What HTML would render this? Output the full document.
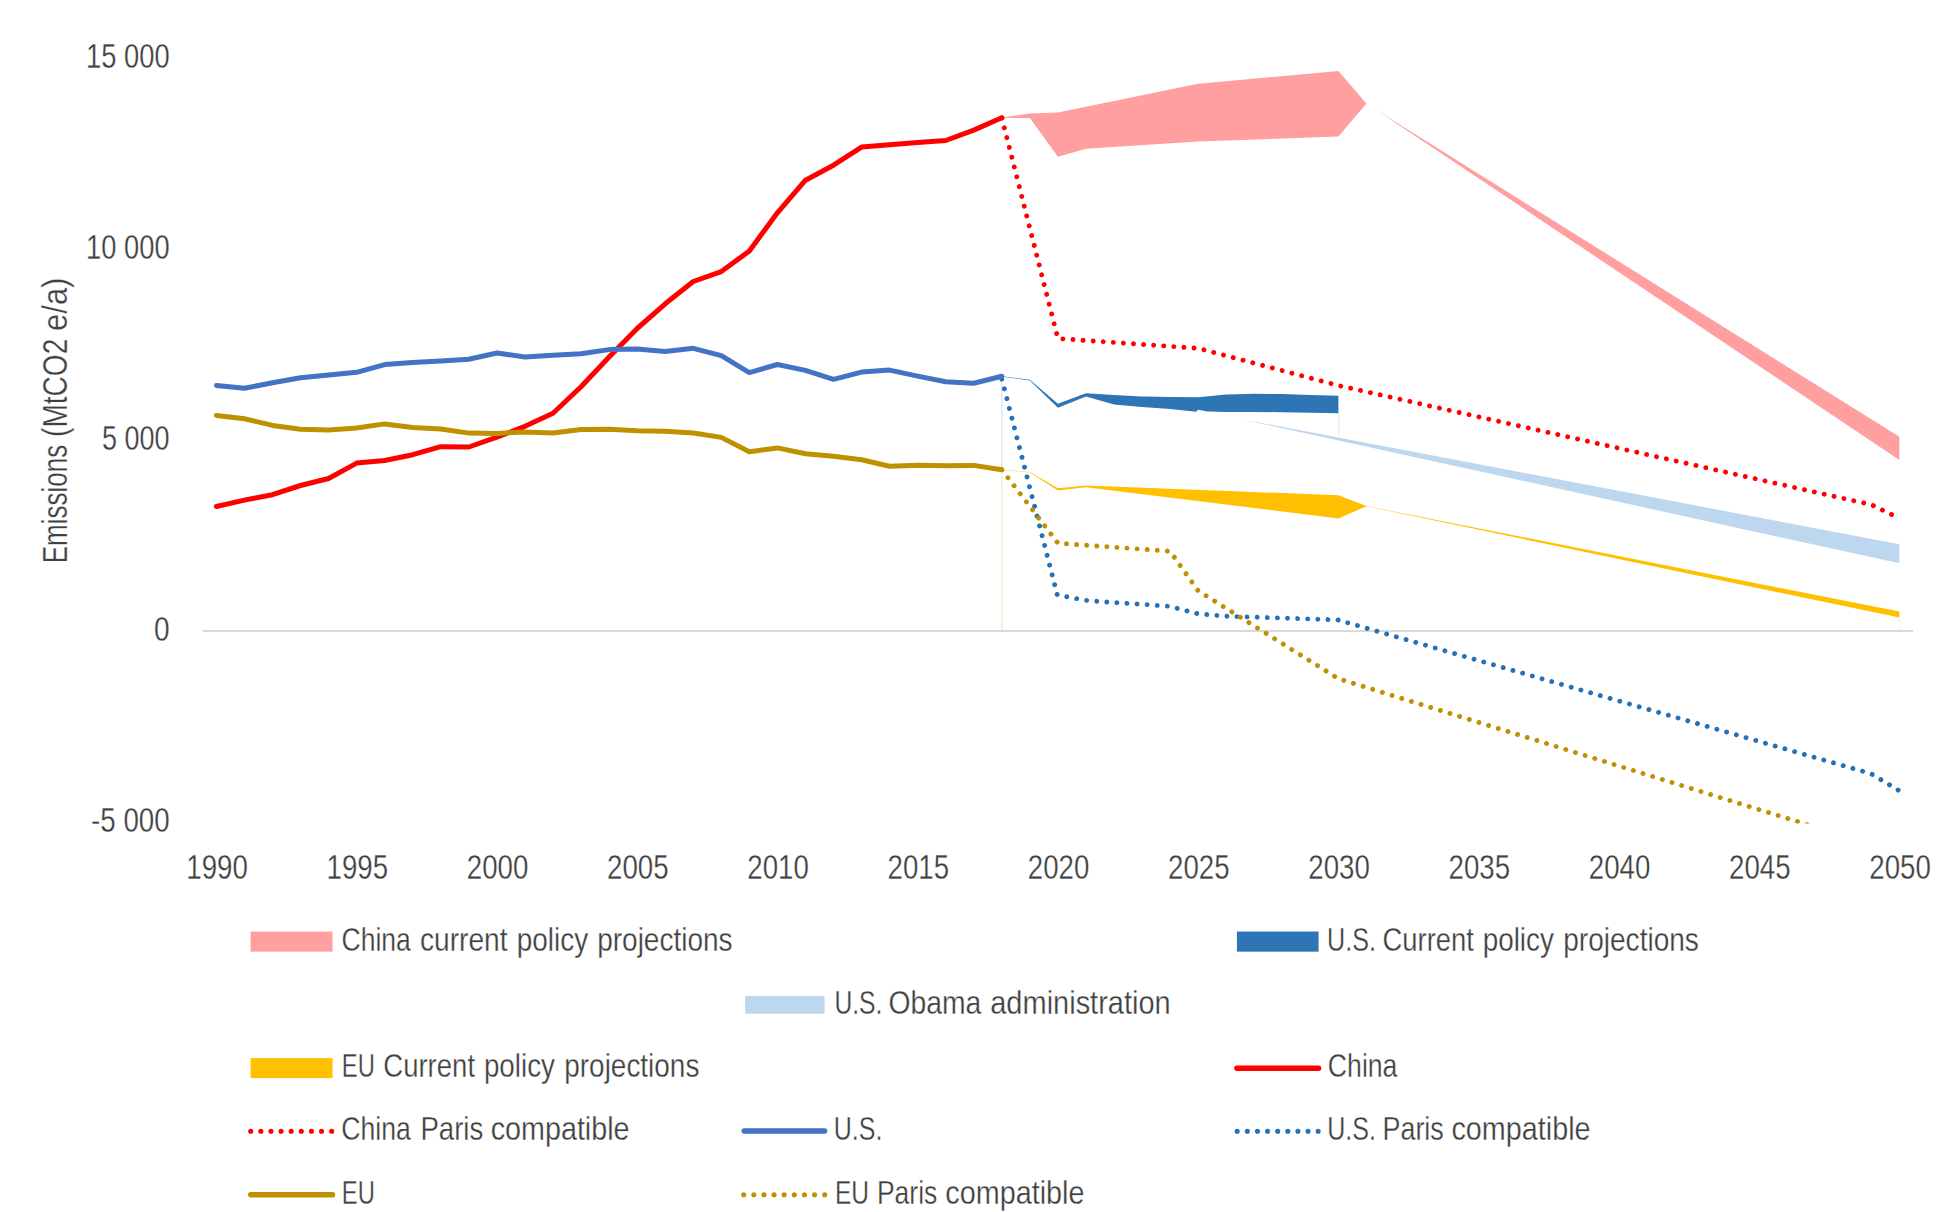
<!DOCTYPE html>
<html lang="en">
<head>
<meta charset="utf-8">
<title>Emissions (MtCO2 e/a) – China, U.S., EU</title>
<style>
html,body{margin:0;padding:0;background:#fff;}
body{width:1949px;height:1212px;overflow:hidden;}
svg{display:block;}
</style>
</head>
<body>
<svg width="1949" height="1212" viewBox="0 0 1949 1212">
<rect x="0" y="0" width="1949" height="1212" fill="#ffffff"/>
<defs><clipPath id="plot"><rect x="195" y="30" width="1730" height="793.5"/></clipPath></defs>

<line x1="1001.8" y1="377" x2="1001.8" y2="470" stroke="#DCE6F2" stroke-width="1.4"/>
<line x1="1001.8" y1="470" x2="1001.8" y2="631" stroke="#F4EDCF" stroke-width="1.4"/>
<line x1="1338.7" y1="413" x2="1338.7" y2="436" stroke="#E3ECF6" stroke-width="1.2"/>
<line x1="1899.6" y1="617" x2="1899.6" y2="630" stroke="#FBF1D0" stroke-width="1.2"/>
<line x1="202.6" y1="631" x2="1913.2" y2="631" stroke="#D9D9D9" stroke-width="2"/>
<g clip-path="url(#plot)">
<polygon points="1001.8,117.4 1029.85,113.6 1057.9,112.5 1198.15,83.8 1338.4,71.1 1366.45,103.4 1338.4,136.6 1198.15,141.6 1085.95,148.7 1057.9,156.7 1029.85,117.9 1001.8,118.0" fill="#FF9F9F"/>
<polygon points="1376,109.7 1899.4,436.8 1899.4,460.0" fill="#FF9F9F"/>
<polygon points="1240,418.9 1899.4,544.2 1899.4,563.3" fill="#BDD7EE"/>
<polygon points="1001.8,376.25 1029.85,379.85 1057.9,403.8 1085.95,393.2 1114.0,395.1 1142.05,396.6 1170.1,397.1 1198.15,397.3 1226.2,394.5 1254.25,393.8 1282.3,394.0 1310.35,394.9 1338.4,395.8 1338.4,413.2 1310.35,412.7 1282.3,412.3 1254.25,411.9 1226.2,411.9 1207.5,411.6 1197.8,409.7 1196.3,411.7 1170.1,409.1 1142.05,407.0 1114.0,404.6 1085.95,396.4 1057.9,407.8 1029.85,380.45 1001.8,376.7" fill="#2E75B6"/>
<polygon points="1001.8,469.9 1029.85,472.0 1057.9,488.2 1085.95,485.4 1338.4,495.3 1366.45,506.1 1899.4,611.6 1899.4,617.6 1366.45,506.3 1338.4,518.4 1085.95,487.2 1057.9,490.6 1029.85,472.45 1001.8,470.2" fill="#FFC000"/>
<polyline points="1001.8,117.8 1057.9,338.5 1198.15,348.3 1338.4,385.5 1871.35,504.7 1899.4,518.4" stroke="#FF0000" fill="none" stroke-width="4.9" stroke-linecap="round" stroke-linejoin="round" stroke-dasharray="0.01 10.1" stroke-dashoffset="-0.2"/>
<polyline points="1001.8,376.4 1057.9,594.9 1085.95,600.3 1114.0,602.5 1142.05,604.2 1170.1,606.3 1198.15,613.7 1226.2,616.2 1338.4,619.9 1871.35,773.6 1899.4,790.5" stroke="#2670B5" fill="none" stroke-width="4.9" stroke-linecap="round" stroke-linejoin="round" stroke-dasharray="0.01 10.1" stroke-dashoffset="-2.7" transform="translate(-0.6,0)"/>
<polyline points="1001.8,469.7 1057.9,543.2 1170.1,551.2 1198.15,590.8 1338.4,678.7 1899.4,853.3" stroke="#BF9000" fill="none" stroke-width="4.9" stroke-linecap="round" stroke-linejoin="round" stroke-dasharray="0.01 10.1" stroke-dashoffset="0"/>
<polyline points="216.4,506.5 244.45,500.1 272.5,494.7 300.55,485.5 328.6,478.5 356.65,463.1 384.7,460.5 412.75,454.7 440.8,446.7 468.85,447.0 496.9,437.2 524.95,426.3 553.0,413.2 581.05,386.7 609.1,357.0 637.15,328.5 665.2,303.8 693.25,281.5 721.3,271.6 749.35,251.0 777.4,212.8 805.45,180.2 833.5,165.2 861.55,147.1 889.6,144.8 917.65,142.5 945.7,140.5 973.75,130.1 1001.8,117.8" stroke="#FF0000" fill="none" stroke-width="5" stroke-linecap="round" stroke-linejoin="round"/>
<polyline points="216.4,385.4 244.45,388.2 272.5,382.8 300.55,377.7 328.6,375.1 356.65,372.3 384.7,364.6 412.75,362.6 440.8,361.1 468.85,359.2 496.9,353.0 524.95,357.0 553.0,355.2 581.05,353.8 609.1,349.6 637.15,349.1 665.2,351.5 693.25,348.3 721.3,355.7 749.35,372.6 777.4,364.5 805.45,370.4 833.5,379.4 861.55,372.1 889.6,370.1 917.65,376.1 945.7,381.8 973.75,383.2 1001.8,376.3" stroke="#4472C4" fill="none" stroke-width="5" stroke-linecap="round" stroke-linejoin="round"/>
<polyline points="216.4,415.4 244.45,418.8 272.5,425.4 300.55,429.3 328.6,430.0 356.65,428.0 384.7,423.9 412.75,427.4 440.8,429.0 468.85,433.1 496.9,433.4 524.95,432.0 553.0,433.0 581.05,429.5 609.1,429.3 637.15,430.7 665.2,431.2 693.25,433.0 721.3,437.4 749.35,451.8 777.4,447.9 805.45,453.8 833.5,456.3 861.55,459.7 889.6,466.3 917.65,465.3 945.7,465.7 973.75,465.4 1001.8,469.7" stroke="#BF9000" fill="none" stroke-width="5" stroke-linecap="round" stroke-linejoin="round"/>
</g>
<text x="169.6" y="68.1" text-anchor="end" textLength="83.5" fill="#404040" stroke="#ffffff" stroke-width="0.3" font-family="Liberation Sans, Arial, sans-serif" font-size="34.6" lengthAdjust="spacingAndGlyphs">15 000</text>
<text x="169.6" y="259.1" text-anchor="end" textLength="83.5" fill="#404040" stroke="#ffffff" stroke-width="0.3" font-family="Liberation Sans, Arial, sans-serif" font-size="34.6" lengthAdjust="spacingAndGlyphs">10 000</text>
<text x="169.6" y="450.0" text-anchor="end" textLength="67.5" fill="#404040" stroke="#ffffff" stroke-width="0.3" font-family="Liberation Sans, Arial, sans-serif" font-size="34.6" lengthAdjust="spacingAndGlyphs">5 000</text>
<text x="169.6" y="641.0" text-anchor="end" textLength="15.6" fill="#404040" stroke="#ffffff" stroke-width="0.3" font-family="Liberation Sans, Arial, sans-serif" font-size="34.6" lengthAdjust="spacingAndGlyphs">0</text>
<text x="169.6" y="832.0" text-anchor="end" textLength="78.5" fill="#404040" stroke="#ffffff" stroke-width="0.3" font-family="Liberation Sans, Arial, sans-serif" font-size="34.6" lengthAdjust="spacingAndGlyphs">-5 000</text>
<text x="217.1" y="878.9" text-anchor="middle" textLength="61.5" fill="#404040" stroke="#ffffff" stroke-width="0.3" font-family="Liberation Sans, Arial, sans-serif" font-size="34.6" lengthAdjust="spacingAndGlyphs">1990</text>
<text x="357.34999999999997" y="878.9" text-anchor="middle" textLength="61.5" fill="#404040" stroke="#ffffff" stroke-width="0.3" font-family="Liberation Sans, Arial, sans-serif" font-size="34.6" lengthAdjust="spacingAndGlyphs">1995</text>
<text x="497.59999999999997" y="878.9" text-anchor="middle" textLength="61.5" fill="#404040" stroke="#ffffff" stroke-width="0.3" font-family="Liberation Sans, Arial, sans-serif" font-size="34.6" lengthAdjust="spacingAndGlyphs">2000</text>
<text x="637.85" y="878.9" text-anchor="middle" textLength="61.5" fill="#404040" stroke="#ffffff" stroke-width="0.3" font-family="Liberation Sans, Arial, sans-serif" font-size="34.6" lengthAdjust="spacingAndGlyphs">2005</text>
<text x="778.1" y="878.9" text-anchor="middle" textLength="61.5" fill="#404040" stroke="#ffffff" stroke-width="0.3" font-family="Liberation Sans, Arial, sans-serif" font-size="34.6" lengthAdjust="spacingAndGlyphs">2010</text>
<text x="918.35" y="878.9" text-anchor="middle" textLength="61.5" fill="#404040" stroke="#ffffff" stroke-width="0.3" font-family="Liberation Sans, Arial, sans-serif" font-size="34.6" lengthAdjust="spacingAndGlyphs">2015</text>
<text x="1058.6000000000001" y="878.9" text-anchor="middle" textLength="61.5" fill="#404040" stroke="#ffffff" stroke-width="0.3" font-family="Liberation Sans, Arial, sans-serif" font-size="34.6" lengthAdjust="spacingAndGlyphs">2020</text>
<text x="1198.8500000000001" y="878.9" text-anchor="middle" textLength="61.5" fill="#404040" stroke="#ffffff" stroke-width="0.3" font-family="Liberation Sans, Arial, sans-serif" font-size="34.6" lengthAdjust="spacingAndGlyphs">2025</text>
<text x="1339.1000000000001" y="878.9" text-anchor="middle" textLength="61.5" fill="#404040" stroke="#ffffff" stroke-width="0.3" font-family="Liberation Sans, Arial, sans-serif" font-size="34.6" lengthAdjust="spacingAndGlyphs">2030</text>
<text x="1479.3500000000001" y="878.9" text-anchor="middle" textLength="61.5" fill="#404040" stroke="#ffffff" stroke-width="0.3" font-family="Liberation Sans, Arial, sans-serif" font-size="34.6" lengthAdjust="spacingAndGlyphs">2035</text>
<text x="1619.6000000000001" y="878.9" text-anchor="middle" textLength="61.5" fill="#404040" stroke="#ffffff" stroke-width="0.3" font-family="Liberation Sans, Arial, sans-serif" font-size="34.6" lengthAdjust="spacingAndGlyphs">2040</text>
<text x="1759.8500000000001" y="878.9" text-anchor="middle" textLength="61.5" fill="#404040" stroke="#ffffff" stroke-width="0.3" font-family="Liberation Sans, Arial, sans-serif" font-size="34.6" lengthAdjust="spacingAndGlyphs">2045</text>
<text x="1900.1000000000001" y="878.9" text-anchor="middle" textLength="61.5" fill="#404040" stroke="#ffffff" stroke-width="0.3" font-family="Liberation Sans, Arial, sans-serif" font-size="34.6" lengthAdjust="spacingAndGlyphs">2050</text>
<text transform="translate(66.9,0) rotate(-90)" y="0" fill="#404040" stroke="#ffffff" stroke-width="0.3" font-family="Liberation Sans, Arial, sans-serif" font-size="34.6" lengthAdjust="spacingAndGlyphs"><tspan x="-563.23" textLength="118.47" lengthAdjust="spacingAndGlyphs">Emissions</tspan> <tspan x="-436.96" textLength="98.25" lengthAdjust="spacingAndGlyphs">(MtCO2</tspan> <tspan x="-330.92" textLength="53.33" lengthAdjust="spacingAndGlyphs">e/a)</tspan></text>
<rect x="250.6" y="931.5500000000001" width="81.9" height="20.1" fill="#FF9F9F"/>
<rect x="1236.9" y="931.5500000000001" width="81.69999999999982" height="20.1" fill="#2E75B6"/>
<rect x="745.1" y="995.95" width="79.5" height="17.8" fill="#BDD7EE"/>
<rect x="250.6" y="1058.05" width="81.9" height="20.1" fill="#FFC000"/>
<line x1="1236.95" y1="1068.1999999999998" x2="1318.55" y2="1068.1999999999998" stroke="#FF0000" stroke-width="5.5" stroke-linecap="round"/>
<line x1="250.7" y1="1131.3" x2="332" y2="1131.3" stroke="#FF0000" stroke-width="5.1" stroke-linecap="round" stroke-dasharray="0.01 10.11"/>
<line x1="744.25" y1="1131.1" x2="824.65" y2="1131.1" stroke="#4472C4" stroke-width="5.5" stroke-linecap="round"/>
<line x1="1237.2" y1="1131.3" x2="1318.4" y2="1131.3" stroke="#2670B5" stroke-width="5.1" stroke-linecap="round" stroke-dasharray="0.01 10.11"/>
<line x1="250.75" y1="1194.7" x2="332.45" y2="1194.7" stroke="#BF9000" stroke-width="5.5" stroke-linecap="round"/>
<line x1="743.7" y1="1194.7" x2="825.3" y2="1194.7" stroke="#BF9000" stroke-width="5.1" stroke-linecap="round" stroke-dasharray="0.01 10.11"/>
<text y="950.8" fill="#404040" stroke="#ffffff" stroke-width="0.3" font-family="Liberation Sans, Arial, sans-serif" font-size="34"><tspan x="341.54" textLength="69.21" lengthAdjust="spacingAndGlyphs">China</tspan> <tspan x="419.99" textLength="87.61" lengthAdjust="spacingAndGlyphs">current</tspan> <tspan x="516.78" textLength="71.4" lengthAdjust="spacingAndGlyphs">policy</tspan> <tspan x="597.17" textLength="135.4" lengthAdjust="spacingAndGlyphs">projections</tspan></text>
<text y="950.8" fill="#404040" stroke="#ffffff" stroke-width="0.3" font-family="Liberation Sans, Arial, sans-serif" font-size="34"><tspan x="1327.05" textLength="48.89" lengthAdjust="spacingAndGlyphs">U.S.</tspan> <tspan x="1382.59" textLength="91.35" lengthAdjust="spacingAndGlyphs">Current</tspan> <tspan x="1482.68" textLength="71.2" lengthAdjust="spacingAndGlyphs">policy</tspan> <tspan x="1563.27" textLength="135.6" lengthAdjust="spacingAndGlyphs">projections</tspan></text>
<text y="1014.1" fill="#404040" stroke="#ffffff" stroke-width="0.3" font-family="Liberation Sans, Arial, sans-serif" font-size="34"><tspan x="834.39" textLength="48.01" lengthAdjust="spacingAndGlyphs">U.S.</tspan> <tspan x="888.54" textLength="92.73" lengthAdjust="spacingAndGlyphs">Obama</tspan> <tspan x="990.26" textLength="180.43" lengthAdjust="spacingAndGlyphs">administration</tspan></text>
<text y="1077.3" fill="#404040" stroke="#ffffff" stroke-width="0.3" font-family="Liberation Sans, Arial, sans-serif" font-size="34"><tspan x="341.85" textLength="33.03" lengthAdjust="spacingAndGlyphs">EU</tspan> <tspan x="383.29" textLength="91.76" lengthAdjust="spacingAndGlyphs">Current</tspan> <tspan x="483.88" textLength="71.09" lengthAdjust="spacingAndGlyphs">policy</tspan> <tspan x="564.28" textLength="135.09" lengthAdjust="spacingAndGlyphs">projections</tspan></text>
<text y="1077.3" fill="#404040" stroke="#ffffff" stroke-width="0.3" font-family="Liberation Sans, Arial, sans-serif" font-size="34"><tspan x="1327.83" textLength="69.62" lengthAdjust="spacingAndGlyphs">China</tspan></text>
<text y="1140.2" fill="#404040" stroke="#ffffff" stroke-width="0.3" font-family="Liberation Sans, Arial, sans-serif" font-size="34"><tspan x="341.33" textLength="69.51" lengthAdjust="spacingAndGlyphs">China</tspan> <tspan x="420.43" textLength="62.86" lengthAdjust="spacingAndGlyphs">Paris</tspan> <tspan x="490.67" textLength="138.93" lengthAdjust="spacingAndGlyphs">compatible</tspan></text>
<text y="1140.2" fill="#404040" stroke="#ffffff" stroke-width="0.3" font-family="Liberation Sans, Arial, sans-serif" font-size="34"><tspan x="833.77" textLength="48.56" lengthAdjust="spacingAndGlyphs">U.S.</tspan></text>
<text y="1140.2" fill="#404040" stroke="#ffffff" stroke-width="0.3" font-family="Liberation Sans, Arial, sans-serif" font-size="34"><tspan x="1327.26" textLength="48.67" lengthAdjust="spacingAndGlyphs">U.S.</tspan> <tspan x="1382.49" textLength="61.28" lengthAdjust="spacingAndGlyphs">Paris</tspan> <tspan x="1451.47" textLength="139.13" lengthAdjust="spacingAndGlyphs">compatible</tspan></text>
<text y="1203.6" fill="#404040" stroke="#ffffff" stroke-width="0.3" font-family="Liberation Sans, Arial, sans-serif" font-size="34"><tspan x="341.85" textLength="33.03" lengthAdjust="spacingAndGlyphs">EU</tspan></text>
<text y="1203.6" fill="#404040" stroke="#ffffff" stroke-width="0.3" font-family="Liberation Sans, Arial, sans-serif" font-size="34"><tspan x="834.99" textLength="34.04" lengthAdjust="spacingAndGlyphs">EU</tspan> <tspan x="876.93" textLength="60.33" lengthAdjust="spacingAndGlyphs">Paris</tspan> <tspan x="945.27" textLength="139.23" lengthAdjust="spacingAndGlyphs">compatible</tspan></text>
</svg>
</body>
</html>
